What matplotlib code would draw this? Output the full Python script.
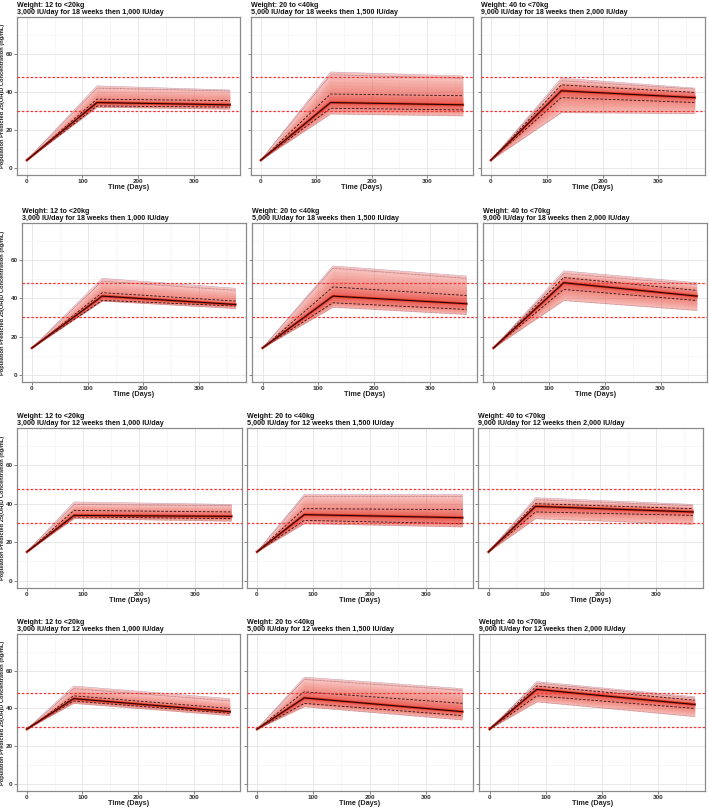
import matplotlib
matplotlib.use('Agg')
import matplotlib.pyplot as plt
import numpy as np

plt.rcParams['font.family'] = ['Liberation Sans', 'DejaVu Sans']

# panel order: row by row, left to right
weights = ['12 to <20kg', '20 to <40kg', '40 to <70kg'] * 4
regimens = [
    '3,000 IU/day for 18 weeks then 1,000 IU/day',
    '5,000 IU/day for 18 weeks then 1,500 IU/day',
    '9,000 IU/day for 18 weeks then 2,000 IU/day',
    '3,000 IU/day for 18 weeks then 1,000 IU/day',
    '5,000 IU/day for 18 weeks then 1,500 IU/day',
    '9,000 IU/day for 18 weeks then 2,000 IU/day',
    '3,000 IU/day for 12 weeks then 1,000 IU/day',
    '5,000 IU/day for 12 weeks then 1,500 IU/day',
    '9,000 IU/day for 12 weeks then 2,000 IU/day',
    '3,000 IU/day for 12 weeks then 1,000 IU/day',
    '5,000 IU/day for 12 weeks then 1,500 IU/day',
    '9,000 IU/day for 12 weeks then 2,000 IU/day',
]
load_days = [126, 126, 126, 126, 126, 126, 84, 84, 84, 84, 84, 84]
end_day = 365
baseline = [4, 4, 4, 14, 14, 14, 15, 15, 15, 29, 29, 29]

# concentrations at end of loading phase
lo_peak = [31.9, 28.4, 29.1, 38.6, 35.4, 38.9, 32.3, 29.7, 32.3, 42.7, 40.9, 43.5]
q25_peak = [32.6, 31.4, 37.0, 39.0, 37.7, 44.7, 33.2, 31.4, 35.8, 43.9, 42.7, 46.7]
med_peak = [34.4, 34.4, 40.6, 41.2, 41.2, 48.2, 34.0, 34.4, 38.7, 45.2, 45.6, 50.1]
q75_peak = [36.2, 38.9, 43.7, 43.0, 46.0, 50.9, 36.6, 37.5, 40.1, 46.7, 48.8, 51.9]
q95_peak = [42.0, 49.0, 45.9, 49.0, 55.8, 53.0, 39.7, 43.9, 42.2, 50.5, 55.4, 53.4]
hi_peak = [43.2, 50.5, 47.3, 50.5, 57.0, 54.4, 41.0, 44.9, 43.2, 51.9, 56.6, 54.2]

# concentrations at day 365
lo_end = [30.9, 27.4, 28.6, 34.7, 31.6, 33.7, 31.0, 28.0, 29.4, 36.2, 33.9, 35.7]
q25_end = [32.0, 30.5, 34.4, 36.0, 34.2, 38.9, 32.3, 29.7, 34.0, 37.4, 36.2, 40.0]
med_end = [33.2, 33.2, 37.0, 36.8, 37.2, 41.2, 33.5, 32.8, 35.8, 38.3, 38.3, 42.1]
q75_end = [35.4, 38.0, 39.7, 38.6, 41.5, 44.2, 35.8, 37.0, 37.5, 40.0, 42.7, 44.4]
q95_end = [40.5, 47.2, 41.5, 44.2, 50.5, 47.2, 39.0, 43.9, 39.0, 44.0, 49.6, 45.5]
hi_end = [41.0, 48.4, 42.0, 45.3, 51.7, 48.2, 39.7, 44.9, 39.7, 45.2, 50.5, 46.2]

target_lines = [30, 48]

W, H = 709, 809
# axes boxes in pixels: (left, right) per panel and (top, bottom) per row
col_edges = [
    [(16.7, 240), (250.7, 473), (480.7, 705)],
    [(21.7, 245.7), (252.3, 476.7), (483.3, 707)],
    [(16.7, 241.7), (246.7, 472.7), (478.3, 703)],
    [(16.7, 240), (246.7, 472.7), (479.3, 705)],
]
row_edges = [(17, 175), (223, 382), (428, 588), (634, 791)]

fig = plt.figure(figsize=(W / 100, H / 100), dpi=100)
band_col = '#e8392c'

for i in range(12):
    r, c = divmod(i, 3)
    x0, x1 = col_edges[r][c]
    y0, y1 = row_edges[r]
    ax = fig.add_axes([x0 / W, 1 - y1 / H, (x1 - x0) / W, (y1 - y0) / H])

    t = [0, load_days[i], end_day]
    b = baseline[i]
    lo = np.array([b, lo_peak[i], lo_end[i]])
    q25 = np.array([b, q25_peak[i], q25_end[i]])
    med = np.array([b, med_peak[i], med_end[i]])
    q75 = np.array([b, q75_peak[i], q75_end[i]])
    q95 = np.array([b, q95_peak[i], q95_end[i]])
    hi = np.array([b, hi_peak[i], hi_end[i]])

    # shaded percentile bands, darker towards the median
    ax.fill_between(t, lo, hi, color=band_col, alpha=0.33, lw=0, zorder=2)
    n = 6
    for k in range(1, n):
        f = k / n
        ax.fill_between(t, lo + (q25 - lo) * f, q95 + (q75 - q95) * f,
                        color=band_col, alpha=0.08, lw=0, zorder=2)
    for k in range(n):
        f = k / n
        ax.fill_between(t, q25 + (med - q25) * f, q75 + (med - q75) * f,
                        color=band_col, alpha=0.11, lw=0, zorder=2)

    ax.plot(t, hi, color='#b06a80', lw=0.4, alpha=0.7, zorder=3)
    ax.plot(t, q95, color='#7a4a60', lw=0.5, ls=(0, (1, 1)), alpha=0.8, zorder=3)
    ax.plot(t, lo, color='#7a4a60', lw=0.45, ls=(0, (1, 1)), alpha=0.7, zorder=3)
    ax.plot(t, q25, color='#2a1010', lw=0.6, ls=(0, (3, 2)), zorder=3)
    ax.plot(t, q75, color='#2a1010', lw=0.6, ls=(0, (3, 2)), zorder=3)
    ax.plot(t, med, color='#e0301e', lw=1.8, zorder=4)
    ax.plot(t, med, color='#1a0505', lw=0.75, zorder=5)

    for v in target_lines:
        ax.axhline(v, color='#ff3030', lw=0.9, ls=(0, (2, 1.5)), zorder=3)

    ax.set_xlim(-18.25, 383.25)
    ax.set_ylim(-3.8, 79.5)
    ax.set_xticks([0, 100, 200, 300])
    ax.set_yticks([0, 20, 40, 60])
    ax.set_xticks([50, 150, 250, 350], minor=True)
    ax.set_yticks([10, 30, 50, 70], minor=True)
    ax.grid(which='major', color='#e4e4e4', lw=0.6, zorder=0)
    ax.grid(which='minor', color='#f1f1f1', lw=0.4, zorder=0)
    ax.set_axisbelow(True)
    ax.tick_params(which='major', length=2, width=0.5, color='#555555', pad=1,
                   labelsize=4.6, labelcolor='#333333')
    ax.tick_params(which='minor', length=0)
    for lab in ax.get_xticklabels() + ax.get_yticklabels():
        lab.set_fontweight('bold')
    if c != 0:
        ax.set_yticklabels([])
    else:
        ax.set_ylabel('Population Predicted 25(OH)D Concentration (ng/mL)',
                      fontsize=4.1, fontweight='bold', color='#222222')
        ax.yaxis.set_label_coords((5.0 - x0) / (x1 - x0), 0.5)
    ax.set_xlabel('Time (Days)', fontsize=5.2, fontweight='bold', labelpad=0,
                  color='#222222')
    for sp in ax.spines.values():
        sp.set_color('#8a8a8a')
        sp.set_linewidth(0.9)

    ax.set_title('Weight: ' + weights[i] + '\n' + regimens[i], loc='left',
                 fontsize=5.1, fontweight='bold', pad=2.5, linespacing=0.95,
                 color='#111111')

fig.savefig('out.png', dpi=100, facecolor='white')
